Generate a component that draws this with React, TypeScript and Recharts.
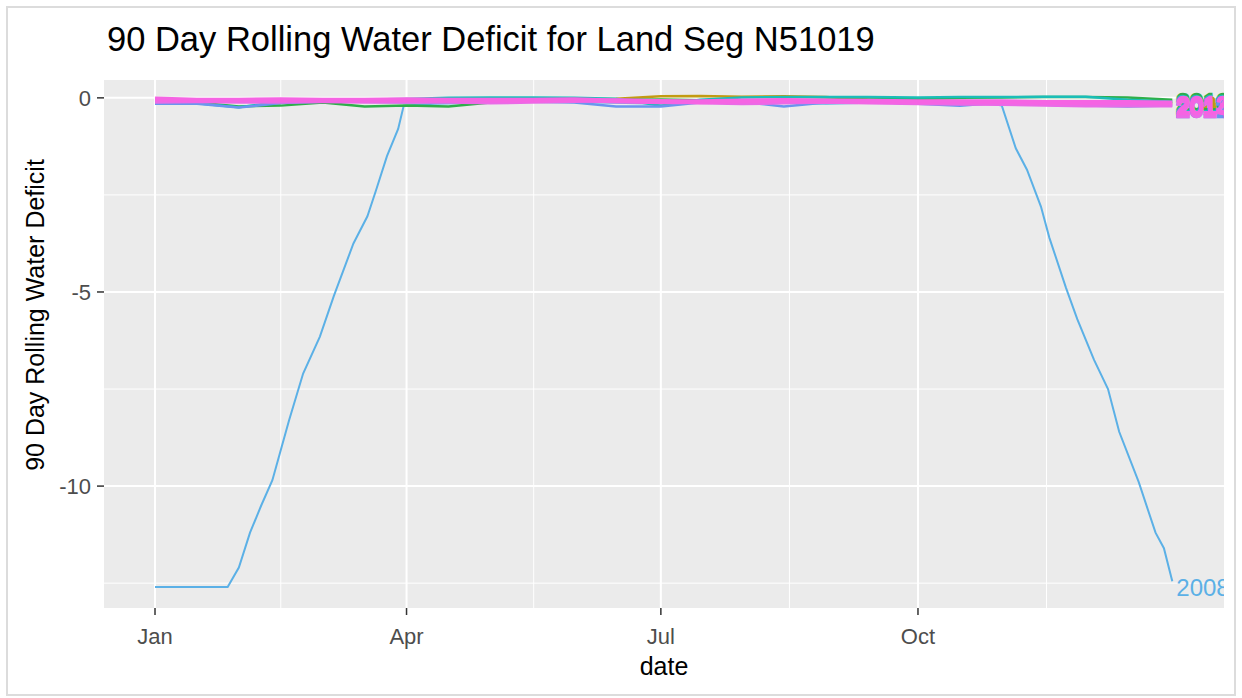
import { LineChart, Line, XAxis, YAxis, CartesianGrid, Label } from "recharts"

// day of year (0 = Jan 1) and 90-day rolling deficit for 2008
const DAYS_2008 = [0, 26, 30, 34, 38, 42, 48, 53, 59, 64, 71, 76, 79, 83, 87, 89, 100, 120, 140, 160, 181, 200, 220, 240, 260, 280, 295, 303, 308, 312, 317, 320, 326, 330, 336, 341, 345, 352, 358, 361, 364]
const DEFICIT_2008 = [-12.6, -12.6, -12.1, -11.2, -10.5, -9.85, -8.3, -7.1, -6.15, -5.1, -3.75, -3.05, -2.4, -1.5, -0.8, -0.2, -0.15, -0.12, -0.1, -0.12, -0.15, -0.1, -0.12, -0.15, -0.12, -0.1, -0.1, -0.2, -1.3, -1.85, -2.8, -3.6, -4.9, -5.7, -6.75, -7.5, -8.6, -9.9, -11.2, -11.6, -12.45]

// the other years all stay close to zero
const NEAR_DAYS = [0, 15, 30, 45, 60, 75, 90, 105, 120, 135, 150, 165, 181, 195, 210, 225, 240, 255, 273, 288, 303, 318, 333, 348, 364]
const DEFICIT_2009 = [-0.08, -0.08, -0.09, -0.1, -0.1, -0.09, -0.08, -0.07, -0.06, -0.06, -0.05, -0.02, 0.04, 0.05, 0.03, 0.04, 0.02, -0.04, -0.06, -0.08, -0.1, -0.12, -0.15, -0.14, -0.13]
const DEFICIT_2010 = [-0.1, -0.12, -0.22, -0.2, -0.12, -0.22, -0.2, -0.22, -0.12, -0.08, -0.06, -0.05, -0.04, -0.06, -0.08, -0.06, -0.05, -0.04, -0.02, 0.0, 0.01, 0.02, 0.02, 0.01, -0.05]
const DEFICIT_2011 = [-0.12, -0.14, -0.24, -0.1, -0.05, -0.04, -0.03, 0.0, 0.01, 0.01, 0.0, -0.02, -0.2, -0.05, 0.01, 0.02, 0.02, 0.02, 0.01, 0.02, 0.02, 0.03, 0.03, -0.05, -0.1]
const DEFICIT_2012 = [-0.15, -0.15, -0.25, -0.13, -0.1, -0.1, -0.12, -0.1, -0.08, -0.1, -0.12, -0.22, -0.22, -0.12, -0.1, -0.22, -0.12, -0.1, -0.15, -0.2, -0.12, -0.18, -0.2, -0.22, -0.2]
const DEFICIT_2013 = [-0.03, -0.06, -0.06, -0.05, -0.06, -0.06, -0.05, -0.06, -0.06, -0.06, -0.05, -0.08, -0.1, -0.1, -0.08, -0.07, -0.08, -0.09, -0.1, -0.1, -0.1, -0.12, -0.12, -0.12, -0.13]
const DEFICIT_2014 = [-0.1, -0.09, -0.1, -0.1, -0.09, -0.1, -0.1, -0.1, -0.12, -0.1, -0.08, -0.06, -0.08, -0.12, -0.14, -0.12, -0.1, -0.12, -0.14, -0.15, -0.16, -0.18, -0.2, -0.2, -0.2]

const MONTH_TICKS = [0, 90, 181, 273]
const MONTH_LABELS = ["Jan", "Apr", "Jul", "Oct"]
const MINOR_X = [45, 135.5, 227, 319]
const Y_TICKS = [0, -5, -10]
const MINOR_Y = [-2.5, -7.5, -12.5]

const FONT = '"Liberation Sans", Arial, sans-serif'

const toPoints = (days: number[], values: number[]) =>
  days.map((day, i) => ({ day, value: values[i] }))

const series = [
  { name: "2008", color: "#5BB0E6", width: 2, bold: false, data: toPoints(DAYS_2008, DEFICIT_2008) },
  { name: "2009", color: "#C29B12", width: 2.5, bold: true, data: toPoints(NEAR_DAYS, DEFICIT_2009) },
  { name: "2010", color: "#2FAE4A", width: 2.5, bold: true, data: toPoints(NEAR_DAYS, DEFICIT_2010) },
  { name: "2011", color: "#1BBDB8", width: 2.5, bold: true, data: toPoints(NEAR_DAYS, DEFICIT_2011) },
  { name: "2012", color: "#6A95EE", width: 2.5, bold: true, data: toPoints(NEAR_DAYS, DEFICIT_2012) },
  { name: "2014", color: "#E96BE6", width: 4, bold: true, data: toPoints(NEAR_DAYS, DEFICIT_2014) },
  { name: "2013", color: "#F564E3", width: 5, bold: true, data: toPoints(NEAR_DAYS, DEFICIT_2013) },
]

function endLabel(name: string, color: string, last: number, bold: boolean) {
  return (props: any) => {
    if (props.index !== last) return null
    return (
      <text
        x={props.x + 4}
        y={props.y}
        dy={bold ? 11 : 14.5}
        fill={color}
        stroke={bold ? color : "none"}
        strokeWidth={bold ? 2.5 : 0}
        fontSize={24}
        fontFamily={FONT}
      >
        {name}
      </text>
    )
  }
}

export default function App() {
  return (
    <div style={{ position: "absolute", left: 0, top: 0, width: 1242, height: 698, background: "#fff" }}>
      <div
        style={{
          position: "absolute",
          left: 6,
          top: 6,
          width: 1226,
          height: 686,
          border: "2px solid #dcdcdc",
        }}
      />
      <div
        style={{
          position: "absolute",
          left: 107,
          top: 22,
          fontFamily: FONT,
          fontSize: 34.5,
          lineHeight: "34px",
          color: "#000",
          whiteSpace: "nowrap",
        }}
      >
        90 Day Rolling Water Deficit for Land Seg N51019
      </div>
      <div style={{ position: "absolute", left: 0, top: 0, width: 1224, height: 698, overflow: "hidden" }}>
        <LineChart width={1224} height={698} margin={{ top: 80, right: 0, bottom: 0, left: 0 }}>
          <CartesianGrid
            fill="#EBEBEB"
            stroke="#FFFFFF"
            strokeWidth={1}
            horizontalValues={MINOR_Y}
            verticalValues={MINOR_X}
          />
          <CartesianGrid
            stroke="#FFFFFF"
            strokeWidth={2}
            horizontalValues={Y_TICKS}
            verticalValues={MONTH_TICKS}
          />
          <XAxis
            dataKey="day"
            type="number"
            domain={[-18.25, 382.5]}
            ticks={MONTH_TICKS}
            tickFormatter={(d: number) => MONTH_LABELS[MONTH_TICKS.indexOf(d)]}
            axisLine={false}
            tickLine={{ stroke: "#333333", strokeWidth: 1.5 }}
            tickSize={7}
            tickMargin={13}
            tick={{ fill: "#4D4D4D", fontSize: 22, fontFamily: FONT }}
            height={90}
            allowDataOverflow
          >
            <Label
              content={(p: any) => (
                <text
                  x={p.viewBox.x + p.viewBox.width / 2}
                  y={675}
                  textAnchor="middle"
                  fill="#000"
                  fontSize={25}
                  fontFamily={FONT}
                >
                  date
                </text>
              )}
            />
          </XAxis>
          <YAxis
            type="number"
            domain={[-13.14, 0.46]}
            ticks={Y_TICKS}
            axisLine={false}
            tickLine={{ stroke: "#333333", strokeWidth: 1.5 }}
            tickSize={7}
            tickMargin={6}
            tick={{ fill: "#4D4D4D", fontSize: 22, fontFamily: FONT }}
            width={104}
            allowDataOverflow
          >
            <Label
              content={() => (
                <text
                  transform="translate(44, 315) rotate(-90)"
                  textAnchor="middle"
                  fill="#000"
                  fontSize={25}
                  fontFamily={FONT}
                >
                  90 Day Rolling Water Deficit
                </text>
              )}
            />
          </YAxis>
          {series.map((s) => (
            <Line
              key={s.name}
              data={s.data}
              dataKey="value"
              name={s.name}
              type="linear"
              stroke={s.color}
              strokeWidth={s.width}
              dot={false}
              activeDot={false}
              isAnimationActive={false}
              label={endLabel(s.name, s.color, s.data.length - 1, s.bold)}
            />
          ))}
        </LineChart>
      </div>
    </div>
  )
}
